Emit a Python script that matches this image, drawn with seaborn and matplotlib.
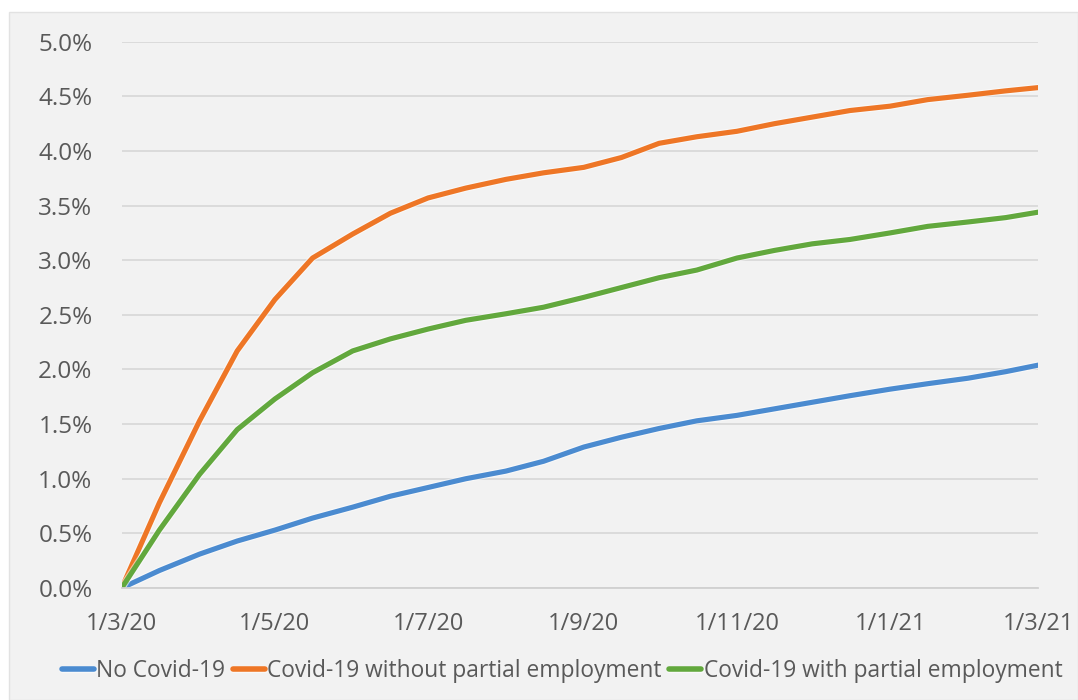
import matplotlib
matplotlib.use("Agg")
import matplotlib.pyplot as plt
import matplotlib.dates as mdates
import matplotlib.patheffects as pe
from matplotlib.patches import Rectangle
from matplotlib.ticker import PercentFormatter, FuncFormatter
import pandas as pd
import seaborn as sns

# Semi-monthly observation dates, March 2020 to March 2021
dates = [
    "2020-03-01", "2020-03-16", "2020-04-01", "2020-04-16", "2020-05-01",
    "2020-05-16", "2020-06-01", "2020-06-16", "2020-07-01", "2020-07-16",
    "2020-08-01", "2020-08-16", "2020-09-01", "2020-09-16", "2020-10-01",
    "2020-10-16", "2020-11-01", "2020-11-16", "2020-12-01", "2020-12-16",
    "2021-01-01", "2021-01-16", "2021-02-01", "2021-02-16", "2021-03-01",
]

# Cumulative values, in percent
no_covid = [0.00, 0.16, 0.31, 0.43, 0.53, 0.64, 0.74, 0.84, 0.92, 1.00,
            1.07, 1.16, 1.29, 1.38, 1.46, 1.53, 1.58, 1.64, 1.70, 1.76,
            1.82, 1.87, 1.92, 1.98, 2.04]
covid_without_partial = [0.00, 0.78, 1.53, 2.17, 2.64, 3.02, 3.24, 3.43, 3.57, 3.66,
                         3.74, 3.80, 3.85, 3.94, 4.07, 4.13, 4.18, 4.25, 4.31, 4.37,
                         4.41, 4.47, 4.51, 4.55, 4.58]
covid_with_partial = [0.00, 0.53, 1.04, 1.45, 1.73, 1.97, 2.17, 2.28, 2.37, 2.45,
                      2.51, 2.57, 2.66, 2.75, 2.84, 2.91, 3.02, 3.09, 3.15, 3.19,
                      3.25, 3.31, 3.35, 3.39, 3.44]

series_names = ["No Covid-19",
                "Covid-19 without partial employment",
                "Covid-19 with partial employment"]
series_colors = ["#4B8BD0", "#EE7626", "#62A83D"]

frames = []
for name, vals in zip(series_names, [no_covid, covid_without_partial, covid_with_partial]):
    frames.append(pd.DataFrame({"date": pd.to_datetime(dates), "value": vals, "series": name}))
df = pd.concat(frames, ignore_index=True)

sns.set_theme(style="white")
plt.rcParams["font.family"] = ["Open Sans", "DejaVu Sans"]

W, H, DPI = 1078, 700, 100
fig = plt.figure(figsize=(W / DPI, H / DPI), dpi=DPI, facecolor="white")

# Light grey chart panel behind everything
fig.patches.append(Rectangle((9 / W, 0), 1 - 9 / W, 1 - 12 / H, transform=fig.transFigure,
                             facecolor="#F2F2F2", edgecolor="#E2E2E2", linewidth=1.0,
                             zorder=-10))

ax = fig.add_axes([121.7 / W, 1 - 588 / H, (1038.3 - 121.7) / W, (588 - 41.7) / H])
ax.set_facecolor("none")
ax.set_zorder(1)

sns.lineplot(data=df, x="date", y="value", hue="series", hue_order=series_names,
             palette=series_colors, linewidth=3.7, ax=ax, legend=True,
             solid_capstyle="round", solid_joinstyle="round")

for line in ax.lines:
    line.set_path_effects([pe.Stroke(linewidth=5.3, foreground="white", alpha=0.55), pe.Normal()])

ax.set_xlim(pd.Timestamp("2020-03-01"), pd.Timestamp("2021-03-01"))
ax.set_ylim(0, 5.0)
ax.set_yticks([i * 0.5 for i in range(11)])
ax.yaxis.set_major_formatter(PercentFormatter(xmax=100, decimals=1))

ax.xaxis.set_major_locator(mdates.MonthLocator(bymonth=[1, 3, 5, 7, 9, 11], bymonthday=1))
ax.xaxis.set_major_formatter(FuncFormatter(
    lambda v, pos: (lambda d: f"{d.day}/{d.month}/{d.strftime('%y')}")(mdates.num2date(v))))

ax.grid(axis="y", color="#D9D9D9", linewidth=1.3)
ax.grid(axis="x", visible=False)
ax.set_axisbelow(True)
for s in ["left", "right", "top"]:
    ax.spines[s].set_visible(False)
ax.spines["bottom"].set_color("#D0D0D0")
ax.spines["bottom"].set_linewidth(1.3)

ax.tick_params(axis="x", which="major", length=5, width=1.2, color="#C8C8C8",
               direction="out", pad=12, labelsize=17, labelcolor="#595959")
ax.tick_params(axis="y", length=0, pad=21, labelsize=17.5, labelcolor="#595959")
ax.set_xlabel("")
ax.set_ylabel("")

handles, labels = ax.get_legend_handles_labels()
ax.legend_.remove()
leg = fig.legend(handles, labels, loc="center", bbox_to_anchor=(562 / W, 1 - 671 / H),
                 ncol=3, frameon=False, fontsize=16.4, handlelength=1.4,
                 handletextpad=0.1, columnspacing=0.35, borderaxespad=0)
for t in leg.get_texts():
    t.set_color("#595959")
for h in leg.legend_handles:
    h.set_linewidth(4)
    h.set_solid_capstyle("round")

fig.savefig("out.png", dpi=DPI, facecolor=fig.get_facecolor())
